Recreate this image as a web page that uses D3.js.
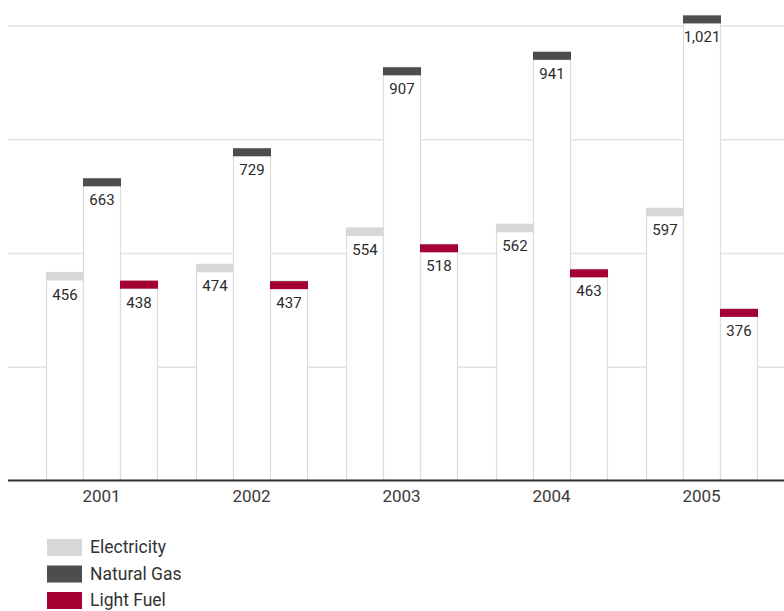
<!DOCTYPE html>
<html>
<head>
<meta charset="utf-8">
<script src="https://cdn.jsdelivr.net/npm/d3@7"></script>
<style>
  body { margin: 0; background: #fff; }
  svg { display: block; font-family: Roboto, "Noto Sans", sans-serif; }
</style>
</head>
<body>
<div id="chart"></div>
<script>
const years = ['2001', '2002', '2003', '2004', '2005'];
const electricity = [456, 474, 554, 562, 597];
const naturalGas = [663, 729, 907, 941, 1021];
const lightFuel = [438, 437, 518, 463, 376];
const seriesNames = ['Electricity', 'Natural Gas', 'Light Fuel'];
const gridTicks = [250, 500, 750, 1000];

const COLORS = { 'Electricity': '#d8d8da', 'Natural Gas': '#4d4d4f', 'Light Fuel': '#a50034' };

const width = 784, height = 611;
const baseY = 480;

const svg = d3.select('#chart').append('svg')
    .attr('width', width).attr('height', height);

const x0 = d3.scaleBand()
    .domain(years)
    .range([26.5, 776.5])
    .paddingInner(0.26)
    .paddingOuter(0.13);
const x1 = d3.scaleBand()
    .domain(seriesNames)
    .range([0, x0.bandwidth()]);
const y = d3.scaleLinear()
    .domain([0, 1000])
    .range([baseY, baseY - 455]);

// Gridlines
svg.append('g').selectAll('line').data(gridTicks).enter().append('line')
    .attr('x1', 8).attr('x2', width)
    .attr('y1', (d) => y(d) + 1).attr('y2', (d) => y(d) + 1)
    .attr('stroke', '#e2e2e2').attr('stroke-width', 1.5);

const rows = years.map((yr, i) => ({
    year: yr,
    values: [
        { key: 'Electricity', v: electricity[i] },
        { key: 'Natural Gas', v: naturalGas[i] },
        { key: 'Light Fuel', v: lightFuel[i] }
    ]
}));

const groups = svg.append('g').selectAll('g.year').data(rows).enter().append('g')
    .attr('class', 'year')
    .attr('transform', (d) => `translate(${x0(d.year)},0)`);

const bars = groups.selectAll('g.bar').data((d) => d.values).enter().append('g')
    .attr('class', 'bar');

// Bar bodies
bars.append('rect')
    .attr('x', (d) => x1(d.key) + 0.5)
    .attr('y', (d) => y(d.v))
    .attr('width', x1.bandwidth())
    .attr('height', (d) => baseY - y(d.v))
    .attr('fill', '#fff')
    .attr('stroke', '#dcdcdc')
    .attr('stroke-width', 1.2);

// Colored caps
bars.append('rect')
    .attr('x', (d) => x1(d.key))
    .attr('y', (d) => y(d.v))
    .attr('width', x1.bandwidth() + 1)
    .attr('height', 8)
    .attr('fill', (d) => COLORS[d.key]);

// Value labels
bars.append('text')
    .attr('x', (d) => x1(d.key) + x1.bandwidth() / 2 + 0.5)
    .attr('y', (d) => y(d.v) + 27)
    .attr('text-anchor', 'middle')
    .attr('font-size', 15)
    .attr('fill', '#2b2b2b')
    .text((d) => d3.format(',')(d.v));

// Axis
svg.append('line')
    .attr('x1', 8).attr('x2', width)
    .attr('y1', baseY + 0.5).attr('y2', baseY + 0.5)
    .attr('stroke', '#333').attr('stroke-width', 2);

svg.append('g').selectAll('text').data(years).enter().append('text')
    .attr('x', (d) => x0(d) + x0.bandwidth() / 2)
    .attr('y', 502)
    .attr('text-anchor', 'middle')
    .attr('font-size', 17)
    .attr('fill', '#3a3a3a')
    .text((d) => d);

// Legend
const legend = svg.append('g').selectAll('g').data(seriesNames).enter().append('g')
    .attr('transform', (d, i) => `translate(47,${539 + i * 26.5})`);
legend.append('rect')
    .attr('width', 35).attr('height', 17)
    .attr('fill', (d) => COLORS[d]);
legend.append('text')
    .attr('x', 43).attr('y', 14)
    .attr('font-size', 17.5)
    .attr('fill', '#333')
    .text((d) => d);
</script>
</body>
</html>
